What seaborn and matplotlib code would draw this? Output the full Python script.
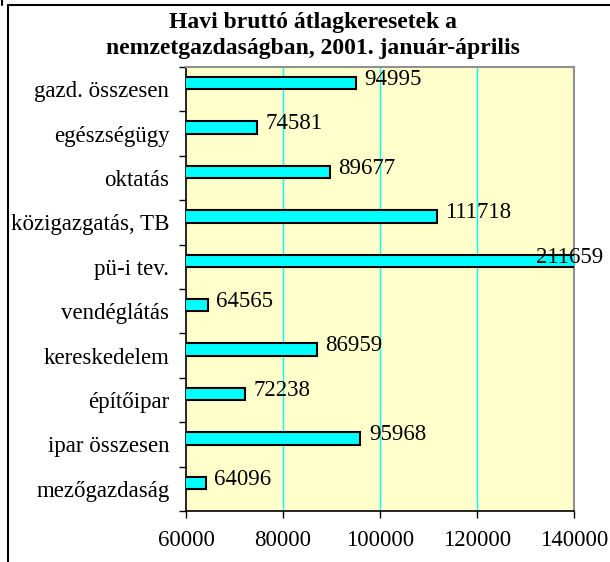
import numpy as np
import matplotlib
matplotlib.use("Agg")
import matplotlib.pyplot as plt
from matplotlib.lines import Line2D
import seaborn as sns
import pandas as pd

categories = ["gazd. összesen", "egészségügy", "oktatás", "közigazgatás, TB",
              "pü-i tev.", "vendéglátás", "kereskedelem", "építőipar",
              "ipar összesen", "mezőgazdaság"]
values = [94995, 74581, 89677, 111718, 211659, 64565, 86959, 72238, 95968, 64096]
x_ticks = [60000, 80000, 100000, 120000, 140000]
title = "Havi bruttó átlagkeresetek a\nnemzetgazdaságban, 2001. január-április"

sns.set_style("white")
plt.rcParams["font.family"] = ["Liberation Serif", "DejaVu Serif"]
plt.rcParams["text.color"] = "black"
plt.rcParams["xtick.color"] = "black"
plt.rcParams["ytick.color"] = "black"
plt.rcParams["xtick.labelcolor"] = "black"
plt.rcParams["ytick.labelcolor"] = "black"

df = pd.DataFrame({"cat": categories, "val": values})

fig = plt.figure(figsize=(6.10, 5.62), dpi=100)
ax = fig.add_axes([186/610, 1 - 511/562, (574 - 186)/610, (511 - 67)/562])
ax.set_facecolor("#FFFFCC")

sns.barplot(data=df, x="val", y="cat", orient="h", color="#00FFFF",
            saturation=1, width=0.28, edgecolor="black", linewidth=1.5, ax=ax,
            zorder=3)
shift = -0.135
for p in ax.patches:
    p.set_y(p.get_y() + shift)

xmin, xmax = x_ticks[0], x_ticks[-1]
ax.set_xlim(xmin, xmax)
ax.set_ylim(len(categories) - 0.5, -0.5)
ax.set_xticks(x_ticks)
ax.set_xticklabels([str(t) for t in x_ticks], fontsize=16.5, color="black")
ax.set_xlabel("")
ax.set_ylabel("")
ax.set_yticks(range(len(categories)))
ax.set_yticklabels(categories, fontsize=16.5, color="black")
ax.set_yticks(np.arange(-0.5, len(categories), 1.0), minor=True)
ax.tick_params(axis="y", which="major", length=0, pad=12)
ax.tick_params(axis="y", which="minor", length=5, width=1, direction="out", color="black", left=True)
ax.tick_params(axis="x", which="major", length=5, width=1, direction="out", color="black", bottom=True, pad=9)

for x in x_ticks[1:-1]:
    ax.axvline(x, color="#00FFFF", lw=1, zorder=1)

for s in ["left", "bottom"]:
    ax.spines[s].set_color("black")
    ax.spines[s].set_linewidth(1.2)
for s in ["right", "top"]:
    ax.spines[s].set_color("#909090")
    ax.spines[s].set_linewidth(1.5)
    ax.spines[s].set_visible(True)

for i, v in enumerate(values):
    y = i - 0.22
    if v <= xmax:
        ax.annotate(str(v), (v, y), xytext=(6, 0), textcoords="offset points",
                    ha="left", va="center", fontsize=16.5, color="black",
                    zorder=5, annotation_clip=False)
    else:
        ax.annotate(str(v), (xmax, y), xytext=(-3, 0), textcoords="offset points",
                    ha="center", va="center", fontsize=16.5, color="black",
                    zorder=5, annotation_clip=False)

fig.suptitle(title, x=313/610, y=1 - 12/562, va="top", ha="center",
             fontsize=17, fontweight="bold", linespacing=1.3, color="black")

fig.add_artist(Line2D([8/610, 8/610], [0, 1 - 5/562], transform=fig.transFigure, color="black", lw=1.5))
fig.add_artist(Line2D([8/610, 1], [1 - 5/562, 1 - 5/562], transform=fig.transFigure, color="black", lw=1.5))
fig.add_artist(Line2D([1.5/610, 1.5/610], [1 - 5/562, 1], transform=fig.transFigure, color="black", lw=1.5))

fig.savefig("out.png", dpi=100)
